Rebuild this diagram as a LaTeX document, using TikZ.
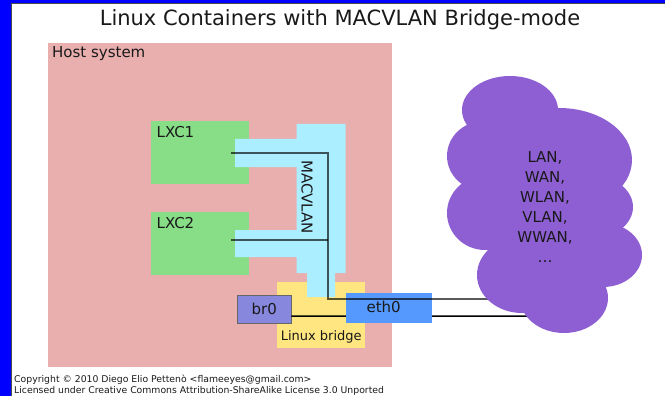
\documentclass[tikz,border=0pt]{standalone}
\usepackage{fontspec}
\setmainfont{DejaVu Sans}
\usetikzlibrary{positioning}
\definecolor{frameblue}{HTML}{0000FF}
\definecolor{hostpink}{HTML}{E9AFAF}
\definecolor{lxcgreen}{HTML}{87DE87}
\definecolor{macblue}{HTML}{AAEEFF}
\definecolor{bridgeyellow}{HTML}{FFE680}
\definecolor{brpurple}{HTML}{8787DE}
\definecolor{ethblue}{HTML}{5599FF}
\definecolor{cloudpurple}{HTML}{8D5FD3}
\tikzset{
	box/.style={
		rectangle
		,inner sep=0pt
		,anchor=north west
	}
	,lxc/.style={box, fill=lxcgreen, minimum width=98pt, minimum height=63pt}
	,tag/.style={anchor=north west, inner sep=0pt, font=\fontsize{15}{18}\selectfont}
	,iface/.style={box, minimum height=28pt}
	,link/.style={draw=black, opacity=0.65, line width=2pt}
	,wire/.style={draw=black, line width=1.5pt}
	,puff/.style={fill=cloudpurple}
}

\begin{document}
\begin{tikzpicture}[x=1pt, y=-1pt, every node/.append style={text=black!90}]
\useasboundingbox (0,0) rectangle (665,396);
% window edge
\fill[frameblue] (0,0) rectangle (11,396);
\fill[frameblue] (0,0) rectangle (665,3);
\draw[black!70, line width=1pt] (11.5,396) -- (11.5,3.5) -- (665,3.5);

\node[font=\fontsize{21}{25}\selectfont] (title) at (340,20) {Linux Containers with MACVLAN Bridge-mode};

% host
\node[box, fill=hostpink, minimum width=344pt, minimum height=324pt] (host) at (48,43) {};
\node[tag, xshift=4pt, yshift=-3pt] (hosttxt) at (host.north west) {Host system};

% containers
\node[lxc, label={[tag, xshift=5.5pt, yshift=-5.5pt]north west:LXC1}] (lxc1) at (151,121) {};
\node[lxc, label={[tag, xshift=5.5pt, yshift=-5.5pt]north west:LXC2}] (lxc2) at (151,212) {};

% bridge
\node[box, fill=bridgeyellow, minimum width=88pt, minimum height=66pt] (bridge) at (277,282) {};
\node[anchor=south, inner sep=0pt, font=\fontsize{13}{15}\selectfont, yshift=5pt] (bridgetxt) at (bridge.south) {Linux bridge};

% macvlan
\fill[macblue] (296.5,124) -- (345.5,124) -- (345.5,273) -- (335,273) -- (335,297)
	-- (307,297) -- (307,273) -- (296.5,273) -- (296.5,257) -- (235,257) -- (235,230)
	-- (296.5,230) -- (296.5,167) -- (235,167) -- (235,139) -- (296.5,139) -- cycle;
\node[rotate=-90, inner sep=0pt, font=\fontsize{15}{18}\selectfont] (macvlan) at (307,197) {MACVLAN};

\node[iface, fill=brpurple, draw=black!60, minimum width=54pt] (br0) at (237,295) {};
\node[font=\fontsize{15}{18}\selectfont, inner sep=0pt] (brtxt) at (br0.center) {br0};

\coordinate (lxc1port) at (231,153.5);
\coordinate (lxc2port) at (231,240);
\coordinate (trunk) at (328,299);
\coordinate (netin1) at (530,299);
\coordinate (netin2) at (540,316);

\draw[wire] ([yshift=-7pt]br0.east) -- (netin2);

\node[iface, fill=ethblue, minimum width=86pt, minimum height=30pt] (eth0) at (345.5,292.5) {};
\node[font=\fontsize{15}{18}\selectfont, inner sep=0pt, xshift=-5pt, yshift=1pt] (ethtxt) at (eth0.center) {eth0};

\draw[link] (lxc1port) -| (trunk) -- (netin1);
\draw[link] (lxc2port) -- (lxc2port -| trunk);

% network cloud
\fill[puff] (545,210) ellipse [x radius=60, y radius=85];
\fill[puff] (510,110) ellipse [x radius=48, y radius=34];
\fill[puff] (559,160) ellipse [x radius=73, y radius=52];
\fill[puff] (484,156) ellipse [x radius=37, y radius=35];
\fill[puff] (485,213) ellipse [x radius=38, y radius=37];
\fill[puff] (593,207) ellipse [x radius=40, y radius=31];
\fill[puff] (603,255) ellipse [x radius=39, y radius=32];
\fill[puff] (522,275) ellipse [x radius=45, y radius=38];
\fill[puff] (564,298) ellipse [x radius=44, y radius=35];
\node[align=center, font=\fontsize{15}{20}\selectfont] (net) at (545,207) {LAN,\\WAN,\\WLAN,\\VLAN,\\WWAN,\\\dots};

\node[anchor=west, align=left, inner sep=0pt, font=\fontsize{9.3}{11}\selectfont] (credit) at (14,385)
	{Copyright © 2010 Diego Elio Pettenò <flameeyes@gmail.com>\\Licensed under Creative Commons Attribution-ShareAlike License 3.0 Unported};
\end{tikzpicture}
\end{document}
